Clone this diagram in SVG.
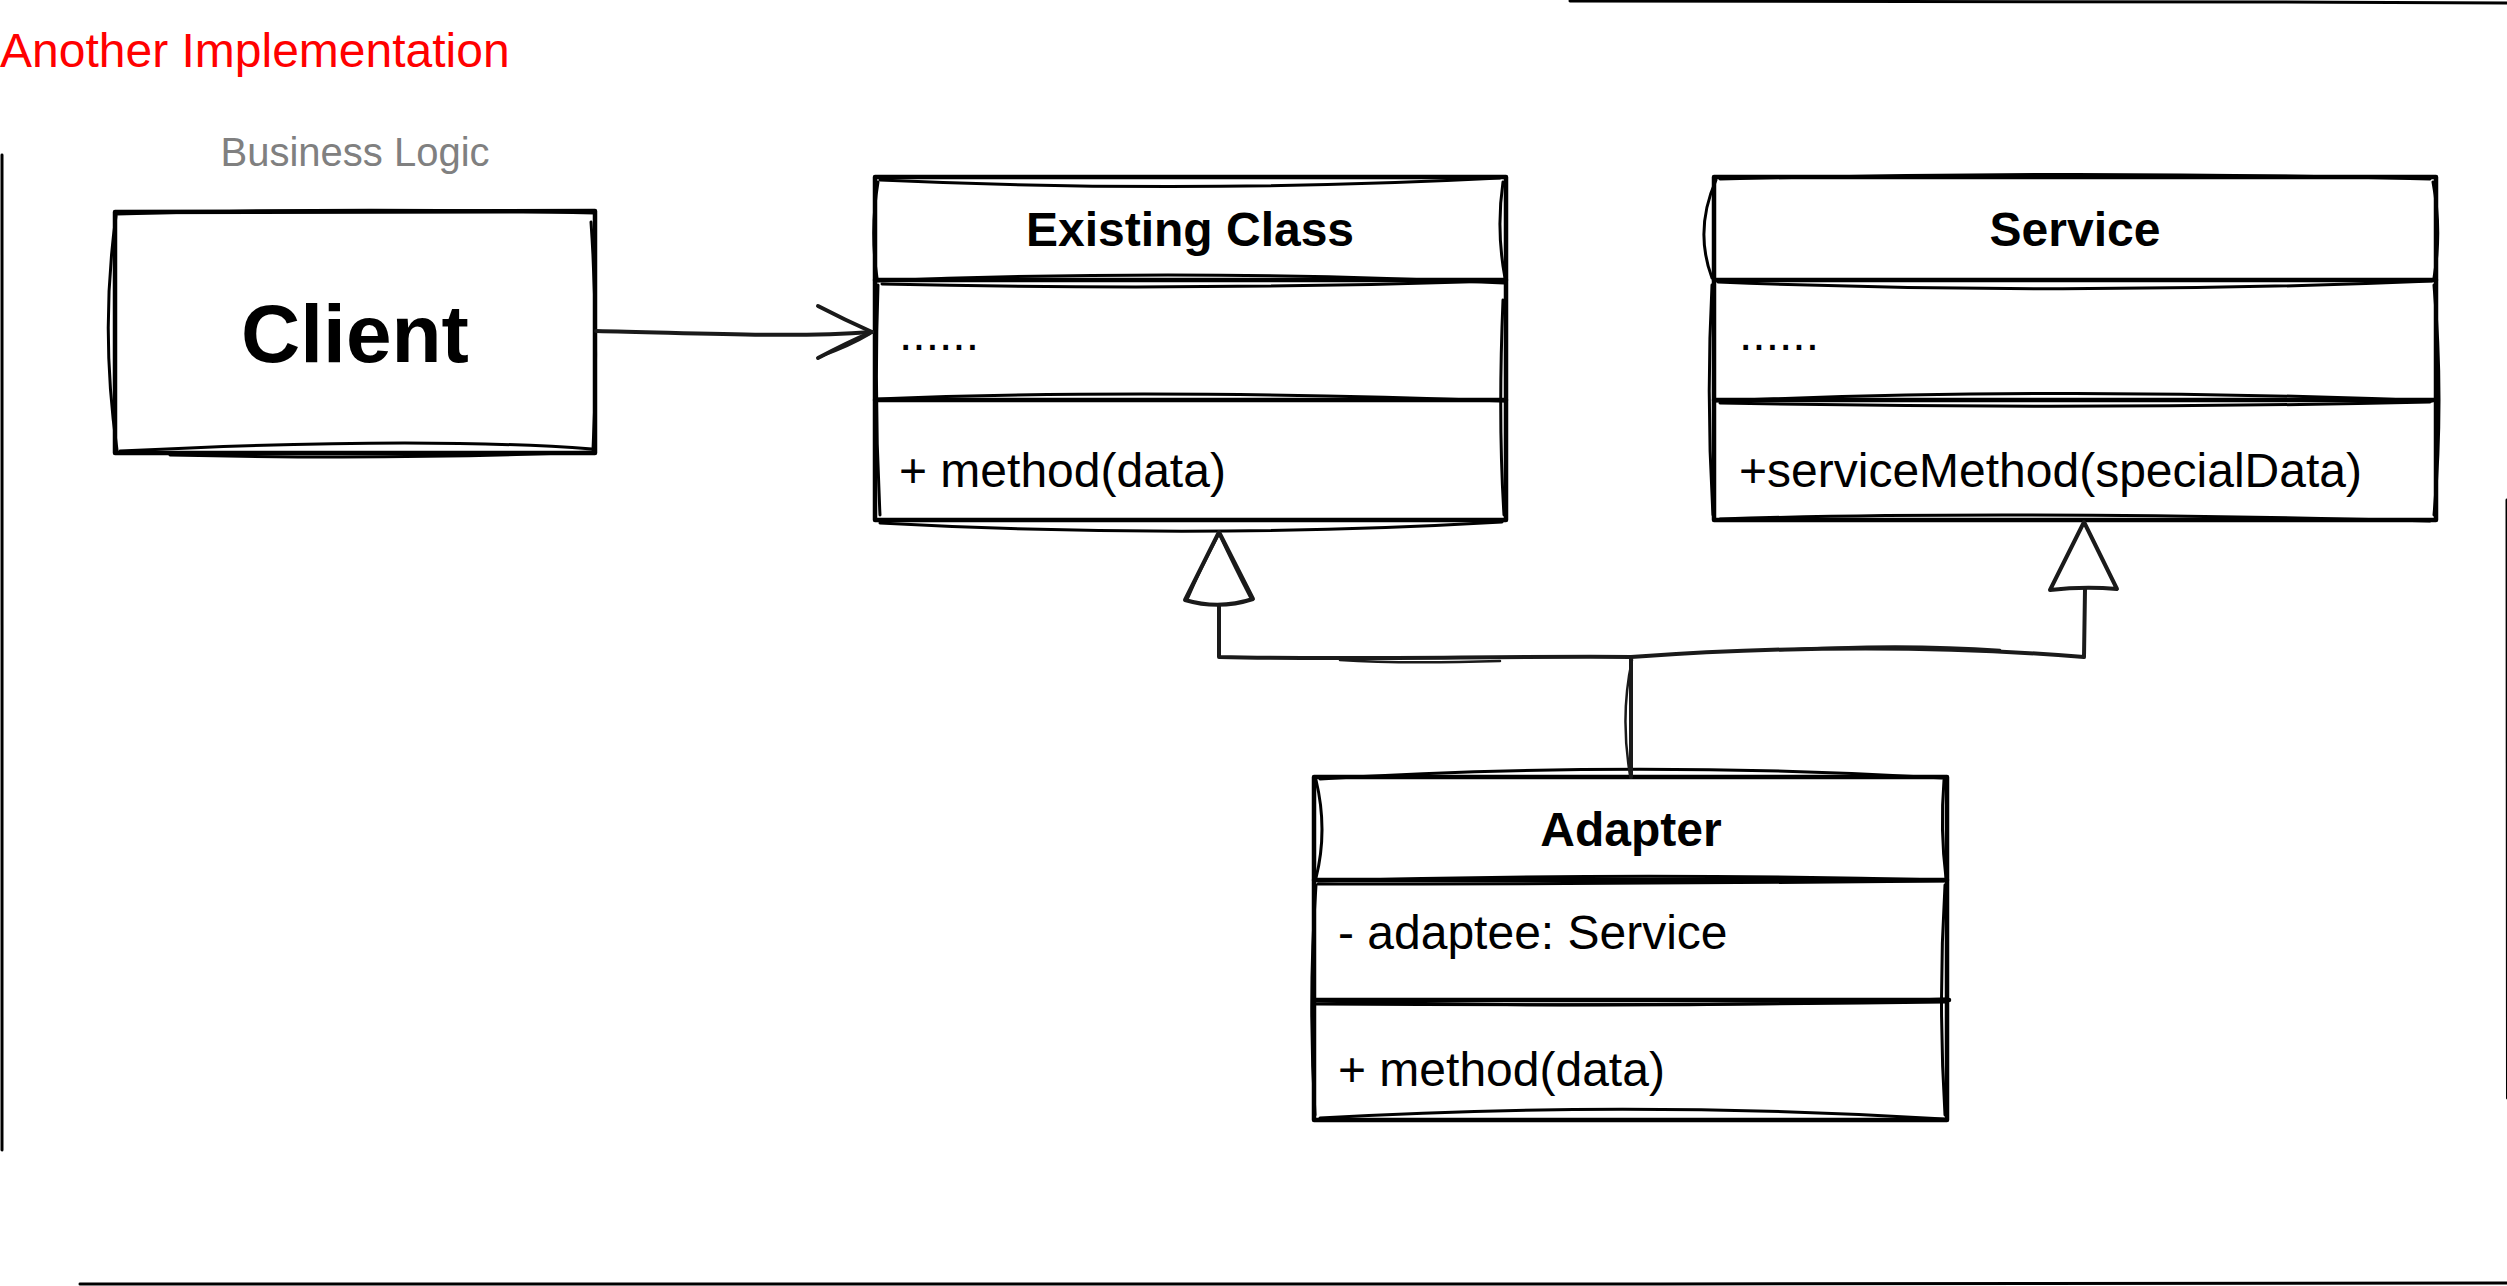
<svg xmlns="http://www.w3.org/2000/svg" width="2507" height="1286" viewBox="0 0 2507 1286">
<style>
  .box { fill: #ffffff; stroke: #000000; stroke-width: 4.5; stroke-linejoin: round; stroke-linecap: round; }
  .sk { fill: none; stroke: #000000; stroke-width: 3; stroke-linecap: round; stroke-linejoin: round; }
  .ln { fill: none; stroke: #000000; stroke-width: 4.5; stroke-linecap: round; }
  .edge { fill: none; stroke: #1a1a1a; stroke-width: 4; stroke-linecap: round; stroke-linejoin: round; }
  .edge2 { fill: none; stroke: #1a1a1a; stroke-width: 2.5; stroke-linecap: round; }
  .tri { fill: #ffffff; stroke: #1a1a1a; stroke-width: 4; stroke-linejoin: round; }
  .border { fill: none; stroke: #000000; stroke-width: 3; stroke-linecap: round; }
  .t { font-family: "Liberation Sans", Arial, sans-serif; fill: #000000; }
  .title { font-size: 48px; font-weight: bold; text-anchor: middle; }
  .mem { font-size: 48px; }
</style>
<rect x="0" y="0" width="2507" height="1286" fill="#ffffff"/>

<g id="page-border">
  <path class="border" d="M2,155 C3,500 1,800 2,1150"/>
  <path class="border" d="M80,1284 C800,1283 1700,1285 2507,1283"/>
  <path class="border" d="M1570,1 C1900,2 2200,1 2507,3"/>
  <path class="border" d="M2507,500 C2507.5,700 2507,900 2507.5,1098" stroke-width="2" stroke="#555555"/>
</g>

<text id="title-label" class="t" x="0" y="67" font-size="48" style="fill:#FF0000">Another Implementation</text>
<text id="business-logic" class="t" x="355" y="166" font-size="40" text-anchor="middle" style="fill:#808080">Business Logic</text>

<g id="client">
  <path class="box" d="M115,212 L595,211 L595,453 L115,453 Z"/>
  <path class="sk" d="M117,214 Q350,207 594,213"/>
  <path class="sk" d="M116,216 Q100,330 117,450"/>
  <path class="sk" d="M591,222 Q599,340 593,450"/>
  <path class="sk" d="M170,455 Q400,460 592,452"/>
  <path class="sk" d="M120,451 Q420,436 592,449"/>
  <text class="t" x="355" y="362" font-size="82" font-weight="bold" text-anchor="middle">Client</text>
</g>

<g id="existing-class">
  <path class="box" d="M875,177 L1506,177 L1506,520 L875,520 Z"/>
  <path class="ln" d="M875,280 L1506,280"/>
  <path class="ln" d="M875,400 L1506,400"/>
  <path class="sk" d="M880,180 Q1190,194 1500,178"/>
  <path class="sk" d="M877,281 Q1190,268 1504,283"/>
  <path class="sk" d="M882,284 Q1190,291 1500,281"/>
  <path class="sk" d="M877,399 Q1150,388 1504,401"/>
  <path class="sk" d="M880,523 Q1190,540 1502,522"/>
  <path class="sk" d="M878,182 Q870,230 877,278"/>
  <path class="sk" d="M1503,182 Q1496,230 1505,278"/>
  <path class="sk" d="M878,285 Q874,400 880,515"/>
  <path class="sk" d="M1503,300 Q1498,420 1504,515"/>
  <text class="t title" x="1190" y="246">Existing Class</text>
  <text class="t mem" x="899" y="350">......</text>
  <text class="t mem" x="899" y="487">+ method(data)</text>
</g>

<g id="service">
  <path class="box" d="M1714,177 L2436,177 L2436,520 L1714,520 Z"/>
  <path class="ln" d="M1714,280 L2436,280"/>
  <path class="ln" d="M1714,400 L2436,400"/>
  <path class="sk" d="M1720,179 Q2075,170 2430,179"/>
  <path class="sk" d="M1718,282 Q2075,296 2432,281"/>
  <path class="sk" d="M1716,401 Q2075,386 2432,401"/>
  <path class="sk" d="M1720,403 Q2075,410 2430,402"/>
  <path class="sk" d="M1720,519 Q2000,510 2430,521"/>
  <path class="sk" d="M1716,180 Q1694,230 1712,278"/>
  <path class="sk" d="M2433,182 Q2442,230 2434,278"/>
  <path class="sk" d="M1712,285 Q1706,400 1713,515"/>
  <path class="sk" d="M2434,285 Q2444,400 2434,515"/>
  <text class="t title" x="2075" y="246">Service</text>
  <text class="t mem" x="1739" y="350">......</text>
  <text class="t mem" x="1739" y="487">+serviceMethod(specialData)</text>
</g>

<g id="adapter">
  <path class="box" d="M1314,777 L1947,777 L1947,1120 L1314,1120 Z"/>
  <path class="ln" d="M1314,880 L1947,880"/>
  <path class="ln" d="M1314,1000 L1949,1000"/>
  <path class="sk" d="M1320,779 Q1630,760 1944,778"/>
  <path class="sk" d="M1318,881 Q1630,872 1944,880"/>
  <path class="sk" d="M1318,884 Q1630,884 1944,881"/>
  <path class="sk" d="M1316,1001 Q1630,1010 1946,999"/>
  <path class="sk" d="M1316,1004 Q1630,1006 1946,1002"/>
  <path class="sk" d="M1320,1118 Q1630,1100 1944,1119"/>
  <path class="sk" d="M1316,780 Q1328,830 1316,878"/>
  <path class="sk" d="M1944,780 Q1940,830 1946,878"/>
  <path class="sk" d="M1316,885 Q1308,1000 1315,1115"/>
  <path class="sk" d="M1945,885 Q1938,1000 1945,1115"/>
  <text class="t title" x="1631" y="846">Adapter</text>
  <text class="t mem" x="1338" y="949">- adaptee: Service</text>
  <text class="t mem" x="1338" y="1086">+ method(data)</text>
</g>

<g id="connectors">
  <!-- Client to Existing Class (association, open arrow) -->
  <path class="edge" d="M596,331 C700,333 790,338 872,332"/>
  <path class="edge" d="M818,306 Q845,320 872,332"/>
  <path class="edge" d="M818,358 Q848,342 872,332"/>
  <path class="edge2" d="M822,356 Q850,346 870,334"/>

  <!-- Adapter to Existing Class (generalization) -->
  <path class="edge" d="M1631,777 L1631,657 C1500,656 1350,660 1219,657 L1219,600"/>
  <path class="edge2" d="M1630,775 Q1620,715 1632,660"/>
  <path class="edge2" d="M1500,661 Q1400,664 1340,660"/>
  <path class="tri" d="M1219,532 L1253,599 Q1219,610 1185,600 Z"/>
  <path class="edge2" d="M1219,534 Q1200,570 1188,598"/>
  <path class="edge2" d="M1219,534 Q1236,570 1250,597"/>

  <!-- Adapter to Service (generalization) -->
  <path class="edge" d="M1631,657 C1800,645 1950,646 2084,657 L2085,589"/>
  <path class="edge2" d="M1780,650 Q1900,643 2000,650"/>
  <path class="tri" d="M2084,522 L2117,589 Q2084,586 2050,590 Z"/>
</g>
</svg>
